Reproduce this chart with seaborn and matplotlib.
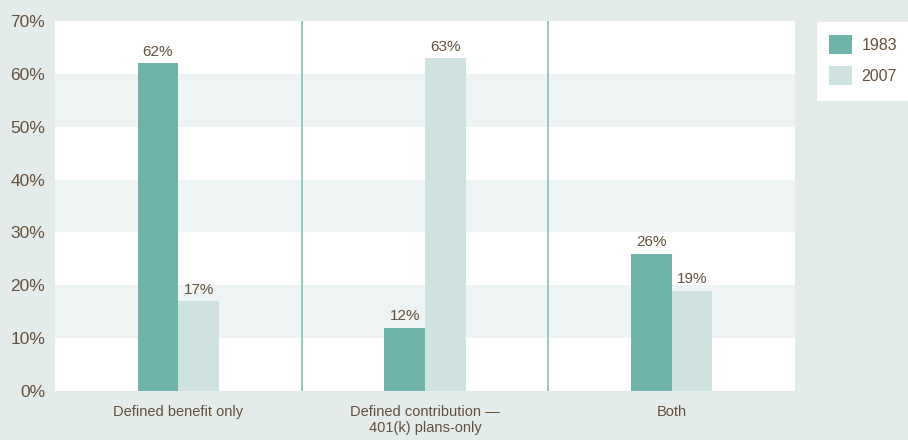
import matplotlib
matplotlib.use("Agg")
import matplotlib.pyplot as plt
from matplotlib.patches import Rectangle, Patch
from matplotlib.ticker import FuncFormatter, MultipleLocator
import seaborn as sns
import pandas as pd

# Share of workers by type of retirement plan
categories = ["Defined benefit only", "Defined contribution \u2014\n401(k) plans-only", "Both"]
years = ["1983", "2007"]
values_1983 = [62, 12, 26]
values_2007 = [17, 63, 19]

df = pd.DataFrame({
    "plan": categories * 2,
    "year": [years[0]] * 3 + [years[1]] * 3,
    "share": values_1983 + values_2007,
})

BG = "#e3ecea"
BAND = "#edf4f3"
TEXT = "#65503b"
C1983 = "#6fb3ab"
C2007 = "#cee2e0"
DIVIDER = "#8cc6c0"

sns.set_theme(style="white")
plt.rcParams["font.family"] = ["Liberation Sans Narrow", "Liberation Sans", "DejaVu Sans"]

fig = plt.figure(figsize=(9.08, 4.40), dpi=100, facecolor=BG)
ax = fig.add_axes([55 / 908, 1 - 391 / 440, 740 / 908, 370 / 440])
ax.set_facecolor("white")

sns.barplot(data=df, x="plan", y="share", hue="year", order=categories,
            hue_order=years, palette=[C1983, C2007], width=0.33,
            saturation=1, ax=ax, legend=False, zorder=3, linewidth=0)

ax.set_ylim(0, 70)
ax.set_xlim(-0.5, 2.5)

# Alternating horizontal bands
for lo in (10, 30, 50):
    ax.axhspan(lo, lo + 10, color=BAND, zorder=0, lw=0)

# Dividers between groups
for xpos in (0.5, 1.5):
    ax.axvline(xpos, color=DIVIDER, lw=1.3, zorder=2)

for cont in ax.containers:
    ax.bar_label(cont, fmt="%.0f%%", padding=3, color=TEXT, fontsize=11, zorder=4)

ax.yaxis.set_major_locator(MultipleLocator(10))
ax.yaxis.set_major_formatter(FuncFormatter(lambda v, p: f"{v:.0f}%"))
ax.tick_params(axis="y", length=0, pad=7, labelsize=12.5, labelcolor=TEXT)
ax.tick_params(axis="x", length=0, pad=10, labelsize=10.5, labelcolor=TEXT)
ax.set_xlabel("")
ax.set_ylabel("")
for s in ax.spines.values():
    s.set_visible(False)

# Legend panel
fig.patches.append(Rectangle((817 / 908, 1 - 101 / 440), 91 / 908, 79 / 440,
                             transform=fig.transFigure, facecolor="white",
                             edgecolor="none", zorder=1))
handles = [Patch(facecolor=C1983, edgecolor="none"), Patch(facecolor=C2007, edgecolor="none")]
fig.legend(handles, years, loc="upper left", bbox_to_anchor=(829 / 908, 1 - 35 / 440),
           frameon=False, handlelength=1.45, handleheight=1.45, handletextpad=0.6,
           labelspacing=0.75, fontsize=11.5, labelcolor=TEXT, borderaxespad=0,
           borderpad=0)

fig.savefig("out.png", dpi=100, facecolor=BG)
